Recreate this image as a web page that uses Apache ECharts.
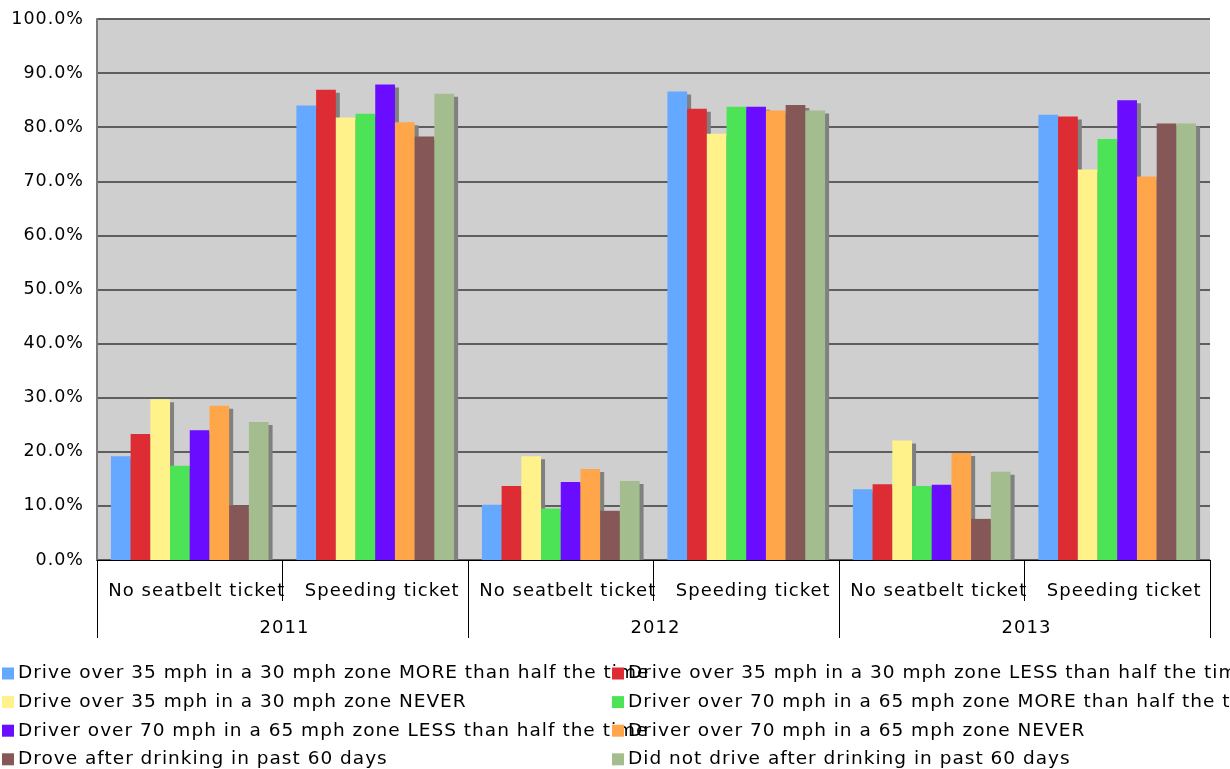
<!DOCTYPE html>
<html>
<head>
<meta charset="utf-8">
<script src="https://cdn.jsdelivr.net/npm/echarts@6/dist/echarts.min.js"></script>
<style>
html,body{margin:0;padding:0;background:#fff;}
#chart{width:1230px;height:769px;}
</style>
</head>
<body>
<div id="chart"></div>
<script>
// slight letter spacing to mimic the reference's spaced-out text rendering
(function(){
  var f = CanvasRenderingContext2D.prototype.fillText;
  CanvasRenderingContext2D.prototype.fillText = function(){
    if ('letterSpacing' in this) this.letterSpacing = '1px';
    return f.apply(this, arguments);
  };
})();

var categories = ['No seatbelt ticket','Speeding ticket','No seatbelt ticket','Speeding ticket','No seatbelt ticket','Speeding ticket'];
var years = ['2011','2012','2013'];
var yTicks = [0,10,20,30,40,50,60,70,80,90,100];

var names = [
  'Drive over 35 mph in a 30 mph zone MORE than half the time',
  'Drive over 35 mph in a 30 mph zone LESS than half the time',
  'Drive over 35 mph in a 30 mph zone NEVER',
  'Driver over 70 mph in a 65 mph zone MORE than half the time',
  'Driver over 70 mph in a 65 mph zone LESS than half the time',
  'Driver over 70 mph in a 65 mph zone NEVER',
  'Drove after drinking in past 60 days',
  'Did not drive after drinking in past 60 days'
];
var moreThanHalf35 = [19.2, 84.0, 10.2, 86.6, 13.1, 82.3];
var lessThanHalf35 = [23.3, 86.9, 13.7, 83.4, 14.0, 82.0];
var never35        = [29.7, 81.8, 19.2, 78.8, 22.1, 72.2];
var moreThanHalf70 = [17.4, 82.5,  9.5, 83.8, 13.7, 77.8];
var lessThanHalf70 = [24.0, 87.9, 14.4, 83.8, 13.9, 85.0];
var never70        = [28.5, 80.9, 16.8, 83.1, 19.8, 70.9];
var droveDrinking  = [10.1, 78.3,  9.1, 84.1,  7.6, 80.7];
var notDrinking    = [25.5, 86.2, 14.6, 83.1, 16.3, 80.7];
var values = [moreThanHalf35, lessThanHalf35, never35, moreThanHalf70, lessThanHalf70, never70, droveDrinking, notDrinking];
var colors = ['#64a8ff','#dd2c33','#fff28a','#4de356','#690cff','#ffa64a','#865757','#a3bd8f'];

var FONT = 'DejaVu Sans';
var chart = echarts.init(document.getElementById('chart'), null, {renderer:'canvas'});

var series = names.map(function(n,i){
  return {
    name: n, type: 'bar', data: values[i],
    barGap: '0%', barCategoryGap: '15%',
    itemStyle: {color: colors[i], shadowColor: '#808080', shadowBlur: 0, shadowOffsetX: 4, shadowOffsetY: 3},
    emphasis: {disabled: true},
    animation: false
  };
});

var legendBase = {
  orient: 'vertical', padding: 0, itemWidth: 12, itemHeight: 12, itemGap: 9.6,
  icon: 'rect', selectedMode: false, height: 120,
  textStyle: {fontFamily: FONT, fontSize: 18.5, color: '#000', padding: [0,0,0,-1]},
  itemStyle: {shadowColor: 'transparent'}
};

chart.setOption({
  animation: false,
  color: colors,
  grid: {left: 97, right: 20, top: 19, bottom: 209, show: true, backgroundColor: '#cfcfcf', borderWidth: 0},
  yAxis: {
    type: 'value', min: 0, max: 100, interval: 10,
    axisLine: {show: true, lineStyle: {color: '#7a7a7a', width: 2}},
    axisTick: {show: false},
    axisLabel: {fontFamily: FONT, fontSize: 17.5, color: '#000', margin: 13,
      formatter: function(v){ return v.toFixed(1) + '%'; }},
    splitLine: {lineStyle: {color: '#5e5e5e', width: 2}}
  },
  xAxis: [
    {
      type: 'category', data: categories, position: 'bottom', z: 60,
      axisLine: {lineStyle: {color: '#000', width: 1}},
      axisTick: {show: true, interval: 0, length: 41, lineStyle: {color: '#000'}},
      axisLabel: {interval: 0, fontFamily: FONT, fontSize: 18, color: '#000', margin: 22, padding: [0,0,0,14]}
    },
    {
      type: 'category', data: years, position: 'bottom', offset: 0, z: 61,
      axisLine: {show: false},
      axisTick: {show: true, interval: 0, length: 78, lineStyle: {color: '#000'}},
      axisLabel: {interval: 0, fontFamily: FONT, fontSize: 18, color: '#000', margin: 59, padding: [0,0,0,4]}
    }
  ],
  legend: [
    Object.assign({}, legendBase, {left: 2, top: 664, data: [names[0], names[2], names[4], names[6]]}),
    Object.assign({}, legendBase, {left: 612, top: 664, data: [names[1], names[3], names[5], names[7]]})
  ],
  graphic: [{
    type: 'rect', z: 50, silent: true,
    shape: {x: 97, y: 561, width: 1125, height: 5},
    style: {fill: '#fff'}
  }],
  series: series
});
</script>
</body>
</html>
